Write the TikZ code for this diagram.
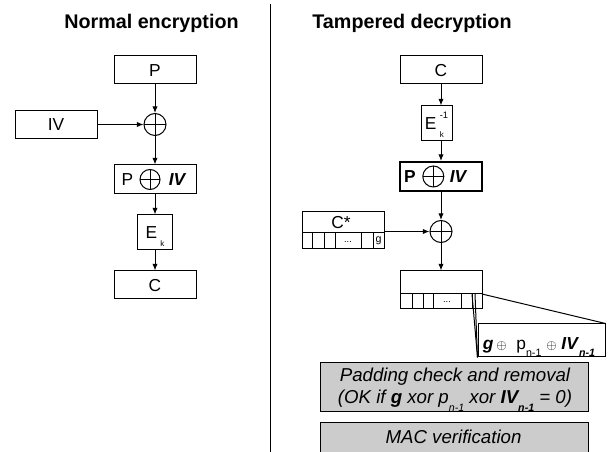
\documentclass[tikz,border=0pt]{standalone}
\usepackage{fontspec}
\setmainfont{Liberation Sans}
\usetikzlibrary{arrows.meta}

\definecolor{padgray}{gray}{0.8}
\newcommand{\lowsub}[1]{\raisebox{-0.8ex}{\fontsize{8}{8}\selectfont #1}}
\newcommand{\keyk}{\raisebox{-0.9ex}{\fontsize{6}{6}\selectfont k}}

\tikzset{
    blk/.style={draw, inner sep=0pt, minimum width=61.5pt, minimum height=21pt,
        text height=9.3pt, text depth=0pt, font=\fontsize{13}{15}\selectfont},
    xor/.style={circle, draw, inner sep=0pt, minimum size=16.5pt,
        path picture={\draw (path picture bounding box.north) -- (path picture bounding box.south)
                            (path picture bounding box.west) -- (path picture bounding box.east);}},
    title/.style={anchor=base, inner sep=0pt, font=\fontsize{14.8}{17}\selectfont\bfseries},
    lbl/.style={inner sep=0pt, font=\fontsize{13}{15}\selectfont},
    tiny/.style={inner sep=0pt, font=\fontsize{7}{8}\selectfont},
    graybox/.style={draw, fill=padgray, inner sep=0pt, minimum width=201pt},
    note/.style={anchor=base, inner sep=0pt, font=\fontsize{14}{16}\selectfont\itshape},
}

\begin{document}
\begin{tikzpicture}[x=0.75pt, y=-0.75pt, >={Latex[length=5pt,width=4pt]}, line width=0.75pt]
    \clip (0,0) rectangle (611,452);

    % Titles and divider
    \node [title]   (encT)  at (151.5,29)  {Normal encryption};
    \node [title]   (decT)  at (412,29)    {Tampered decryption};
    \draw (270,4) -- (270,452);

    % Nodes, normal encryption
    \node [blk]                         (P)     at (155,70)     {P};
    \node [xor]                         (xA)    at (155,124.5)  {};
    \node [blk]                         (IV)    at (56,124.5)   {IV};
    \node [blk, minimum height=21.75pt] (PIV)   at (155,179.5)  {};
    \node [lbl]                         (PIVp)  at (127.5,179.5) {P};
    \node [xor, minimum size=15pt]      (PIVx)  at (150,179.5)  {};
    \node [lbl, font=\fontsize{13}{15}\selectfont\bfseries\itshape] (PIVi) at (177,179.5) {IV};
    \node [blk, minimum width=26.25pt, minimum height=26.25pt] (Ek) at (155,232.5) {E\hspace{2.5pt}\keyk};
    \node [blk]                         (C)     at (155,285)    {C};

    % Nodes, tampered decryption
    \node [blk]                         (C2)    at (441,70)     {C};
    \node [blk, minimum width=23.25pt, minimum height=26.25pt] (Ei) at (436.5,123.5)
        {E\hspace{2.5pt}\rlap{\keyk}\raisebox{1.2ex}{\fontsize{7}{7}\selectfont -1}};
    \node [blk, line width=1.5pt, minimum height=21.75pt] (PIV2) at (441,176.5) {};
    \node [lbl, font=\fontsize{13}{15}\selectfont\bfseries] (PIV2p) at (410,176.5) {P};
    \node [xor, minimum size=15.75pt]   (PIV2x) at (433.3,176.5) {};
    \node [lbl, font=\fontsize{13}{15}\selectfont\bfseries\itshape] (PIV2i) at (458,176.5) {IV};
    \node [xor]                         (xB)    at (441,231.5)  {};

    \node [draw, inner sep=0pt, minimum width=61.5pt, minimum height=27.75pt] (Cs) at (343,230.5) {};
    \draw (302,233) -- (384,233);
    \foreach \cx in {312,324,335,361,373}
        \draw (\cx,233) -- (\cx,249);
    \node [lbl]     (CsL)   at (341,222.5) {C*};
    \node [tiny]    (CsD)   at (348,242)   {...};
    \node [tiny, font=\fontsize{8}{9}\selectfont] (CsG) at (378.5,240.5) {g};

    \node [draw, inner sep=0pt, minimum width=61.5pt, minimum height=28.5pt] (Bk) at (441,290) {};
    \draw (400,294) -- (482,294);
    \foreach \cx in {412,423,433,461,472}
        \draw (\cx,294) -- (\cx,309);
    \node [tiny]    (BkD)   at (447,302)   {...};

    \node [draw, inner sep=0pt, minimum width=95.25pt, minimum height=24.75pt] (Zm) at (541.5,340.5) {};
    \node [anchor=base, inner sep=0pt, font=\fontsize{13}{15}\selectfont] (ZmT) at (539,349.5)
        {\textbf{\textit{g}}\,{\fontsize{10}{10}\selectfont$\oplus$}\ \ p\lowsub{n-1}\ {\fontsize{10}{10}\selectfont$\oplus$}\ \textbf{\textit{IV}}\lowsub{\textbf{\textit{n-1}}}};
    \coordinate (BkC1) at (472,294);
    \coordinate (BkC2) at (475,294);
    \coordinate (BkC3) at (482,294);
    \draw (BkC3) -- (Zm.north east);
    \draw (BkC1) -- (Zm.south west);
    \draw (BkC2) -- (Zm.south west);

    \node [graybox, minimum height=36.75pt] (Pad) at (454,387.5) {};
    \node [note]    (PadA)  at (455,381.7) {Padding check and removal};
    \node [note]    (PadB)  at (455,404)
        {(OK if \textbf{g} xor p\lowsub{n-1} xor \textbf{IV}\lowsub{\textbf{n-1}} = 0)};
    \node [graybox, minimum height=36pt] (Mac) at (454,447) {};
    \node [note]    (MacT)  at (453.5,444) {MAC verification};

    % Paths
    \draw [->] (P)  -- (xA);
    \draw [->] (IV) -- (xA);
    \draw [->] (xA) -- (PIV);
    \draw [->] (PIV) -- (Ek);
    \draw [->] (Ek) -- (C);

    \draw [->] (C2.south) -- (C2.south |- Ei.north);
    \draw [->] (C2.south |- Ei.south) -- (PIV2.north);
    \draw [->] (PIV2) -- (xB);
    \draw [->] (Cs.east |- xB.west) -- (xB.west);
    \draw [->] (xB) -- (Bk);
\end{tikzpicture}
\end{document}
